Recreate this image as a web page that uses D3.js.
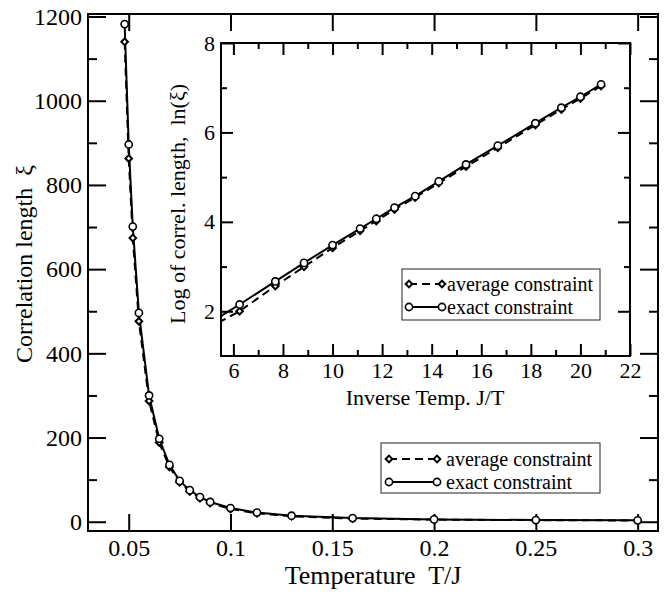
<!DOCTYPE html>
<html><head><meta charset="utf-8">
<script src="https://cdn.jsdelivr.net/npm/d3@7"></script>
</head>
<body style="margin:0"><svg id="c" width="668" height="597"></svg>
<script>
// ---- data ----
const temperature = [0.048,0.05,0.052,0.055,0.06,0.065,0.07,0.075,0.08,0.085,0.09,0.1,0.113,0.13,0.16,0.2,0.25,0.3];
const xiExact   = [1182,896,701,496,300,197,135,97,75,58.5,47,32.5,21.8,14.4,8.6,5.6,4.0,3.3];
const xiAverage = [1140,863,674,476,287,188,130,94,72,55.7,44.7,30.5,20,13,7.4,5.1,3.7,3.0];
const seriesNames = ["average constraint","exact constraint"];
const mainXTicks = [0.05,0.1,0.15,0.2,0.25,0.3];
const mainXTickLabels = ["0.05","0.1","0.15","0.2","0.25","0.3"];
const mainYTicks = [0,200,400,600,800,1000,1200];
const mainYMinor = [100,300,500,700,900,1100];
const insetXTicks = [6,8,10,12,14,16,18,20,22];
const insetXMinor = [7,9,11,13,15,17,19,21];
const insetYTicks = [2,4,6,8];
const insetYMinor = [3,5,7];

const svg = d3.select("#c");
const FONT = "Liberation Serif";
function ft(sel, fs){ sel.attr("font-family",FONT).attr("font-size",fs).style("font-family",FONT,"important").style("font-size",fs+"px"); return sel; }

// ---- main plot ----
const x = d3.scaleLinear().domain([0.03,0.31]).range([88,658]);
const y = d3.scaleLinear().domain([-22,1206]).range([531,14]);
const L=88,R=658,T=14,B=531;

function styleAxis(g, fs){
  g.attr("font-family",FONT).attr("font-size",fs);
  g.select(".domain").remove();
  g.selectAll(".tick line").attr("stroke","#000").attr("stroke-width",2);
  ft(g.selectAll(".tick text"),fs).attr("fill","#000");
}
svg.append("g").attr("transform",`translate(0,${B})`)
  .call(d3.axisBottom(x).tickValues(mainXTicks).tickFormat((d,i)=>mainXTickLabels[i]).tickSize(-17).tickPadding(8))
  .call(g=>styleAxis(g,24));
svg.append("g").attr("transform",`translate(0,${T})`)
  .call(d3.axisTop(x).tickValues(mainXTicks).tickFormat("").tickSize(-17))
  .call(g=>styleAxis(g,24));
svg.append("g").attr("transform",`translate(${L},0)`)
  .call(d3.axisLeft(y).tickValues(mainYTicks).tickFormat(d3.format("d")).tickSize(-18).tickPadding(6))
  .call(g=>styleAxis(g,24));
svg.append("g").attr("transform",`translate(${L},0)`)
  .call(d3.axisLeft(y).tickValues(mainYMinor).tickFormat("").tickSize(-9))
  .call(g=>styleAxis(g,24));
svg.append("g").attr("transform",`translate(${R},0)`)
  .call(d3.axisRight(y).tickValues(mainYTicks).tickFormat("").tickSize(-18))
  .call(g=>styleAxis(g,24));
svg.append("g").attr("transform",`translate(${R},0)`)
  .call(d3.axisRight(y).tickValues(mainYMinor).tickFormat("").tickSize(-9))
  .call(g=>styleAxis(g,24));
svg.append("rect").attr("x",L).attr("y",T).attr("width",R-L).attr("height",B-T)
  .attr("fill","none").attr("stroke","#000").attr("stroke-width",2);

const mainData = [
  {name:seriesNames[0], vals:xiAverage, dash:"8,5", sym:"diamond"},
  {name:seriesNames[1], vals:xiExact, dash:null, sym:"circle"}
];
function drawMarker(g, sym, px, py){
  if(sym==="circle"){
    g.append("circle").attr("cx",px).attr("cy",py).attr("r",3.6)
      .attr("fill","#fff").attr("stroke","#000").attr("stroke-width",1.6);
  } else {
    g.append("path").attr("d",d3.symbol(d3.symbolSquare,22)()).attr("transform",`translate(${px},${py}) rotate(45)`)
      .attr("fill","#fff").attr("stroke","#000").attr("stroke-width",2);
  }
}
const lineMain = d3.line().x(d=>x(d[0])).y(d=>y(d[1]));
mainData.forEach(s=>{
  const pts = temperature.map((t,i)=>[t,s.vals[i]]);
  svg.append("path").attr("d",lineMain(pts)).attr("fill","none").attr("stroke","#000")
    .attr("stroke-width",2).attr("stroke-dasharray",s.dash);
});
mainData.forEach(s=>{
  const g=svg.append("g");
  temperature.forEach((t,i)=>drawMarker(g,s.sym,x(t),y(s.vals[i])));
});

ft(svg.append("text").attr("x",373).attr("y",584).attr("text-anchor","middle"),26)
  .style("white-space","pre").text("Temperature  T/J");
ft(svg.append("text").attr("transform","translate(32,264) rotate(-90)").attr("text-anchor","middle"),24)
  .style("white-space","pre").text("Correlation length  ξ");

function legend(x0,y0,w,h,sx1,sx2,tx,rows){
  const g=svg.append("g");
  g.append("rect").attr("x",x0).attr("y",y0).attr("width",w).attr("height",h)
    .attr("fill","#fff").attr("stroke","#222").attr("stroke-width",1);
  rows.forEach(r=>{
    const yy=r.y;
    g.append("line").attr("x1",sx1).attr("x2",sx2).attr("y1",yy).attr("y2",yy)
      .attr("stroke","#000").attr("stroke-width",2).attr("stroke-dasharray",r.dash);
    drawMarker(g,r.sym,sx1,yy); drawMarker(g,r.sym,sx2,yy);
    ft(g.append("text").attr("x",tx).attr("y",yy+6.5),20).text(r.name);
  });
}
legend(381,443,219,50,389,437,446,[
  {name:seriesNames[0],dash:"8,5",sym:"diamond",y:459},
  {name:seriesNames[1],dash:null,sym:"circle",y:482}
]);

// ---- inset ----
const IL=221,IR=630,IT=43,IB=356;
const ix = d3.scaleLinear().domain([5.5,22]).range([IL,IR]);
const iy = d3.scaleLinear().domain([1,8]).range([IB,IT]);
svg.append("rect").attr("x",IL).attr("y",IT).attr("width",IR-IL).attr("height",IB-IT).attr("fill","#fff");
svg.append("defs").append("clipPath").attr("id","iclip").append("rect")
  .attr("x",IL).attr("y",IT).attr("width",IR-IL).attr("height",IB-IT);

svg.append("g").attr("transform",`translate(0,${IB})`)
  .call(d3.axisBottom(ix).tickValues(insetXTicks).tickFormat(d3.format("d")).tickSize(-12).tickPadding(6))
  .call(g=>styleAxis(g,22));
svg.append("g").attr("transform",`translate(0,${IB})`)
  .call(d3.axisBottom(ix).tickValues(insetXMinor).tickFormat("").tickSize(-6))
  .call(g=>styleAxis(g,22));
svg.append("g").attr("transform",`translate(0,${IT})`)
  .call(d3.axisTop(ix).tickValues(insetXTicks).tickFormat("").tickSize(-12))
  .call(g=>styleAxis(g,22));
svg.append("g").attr("transform",`translate(0,${IT})`)
  .call(d3.axisTop(ix).tickValues(insetXMinor).tickFormat("").tickSize(-6))
  .call(g=>styleAxis(g,22));
svg.append("g").attr("transform",`translate(${IL},0)`)
  .call(d3.axisLeft(iy).tickValues(insetYTicks).tickFormat(d3.format("d")).tickSize(-12).tickPadding(6))
  .call(g=>styleAxis(g,22));
svg.append("g").attr("transform",`translate(${IL},0)`)
  .call(d3.axisLeft(iy).tickValues(insetYMinor).tickFormat("").tickSize(-6))
  .call(g=>styleAxis(g,22));
svg.append("g").attr("transform",`translate(${IR},0)`)
  .call(d3.axisRight(iy).tickValues(insetYTicks).tickFormat("").tickSize(-12))
  .call(g=>styleAxis(g,22));
svg.append("g").attr("transform",`translate(${IR},0)`)
  .call(d3.axisRight(iy).tickValues(insetYMinor).tickFormat("").tickSize(-6))
  .call(g=>styleAxis(g,22));
svg.append("rect").attr("x",IL).attr("y",IT).attr("width",IR-IL).attr("height",IB-IT)
  .attr("fill","none").attr("stroke","#000").attr("stroke-width",2);

const lineInset = d3.line().x(d=>ix(d[0])).y(d=>iy(d[1]));
const ig = svg.append("g").attr("clip-path","url(#iclip)");
mainData.forEach(s=>{
  const pts = temperature.map((t,i)=>[1/t,Math.log(s.vals[i])]);
  ig.append("path").attr("d",lineInset(pts)).attr("fill","none").attr("stroke","#000")
    .attr("stroke-width",2).attr("stroke-dasharray",s.dash);
});
mainData.forEach(s=>{
  temperature.forEach((t,i)=>{
    const v=1/t; if(v<5.5) return;
    drawMarker(ig,s.sym,ix(v),iy(Math.log(s.vals[i])));
  });
});
ft(svg.append("text").attr("x",425).attr("y",405).attr("text-anchor","middle"),22).text("Inverse Temp. J/T");
ft(svg.append("text").attr("transform","translate(185,204) rotate(-90)").attr("text-anchor","middle"),22)
  .style("white-space","pre").text("Log of correl. length,  ln(ξ)");

legend(402,269,198,51,409,442,447,[
  {name:seriesNames[0],dash:"8,5",sym:"diamond",y:284},
  {name:seriesNames[1],dash:null,sym:"circle",y:307}
]);
</script></body></html>
